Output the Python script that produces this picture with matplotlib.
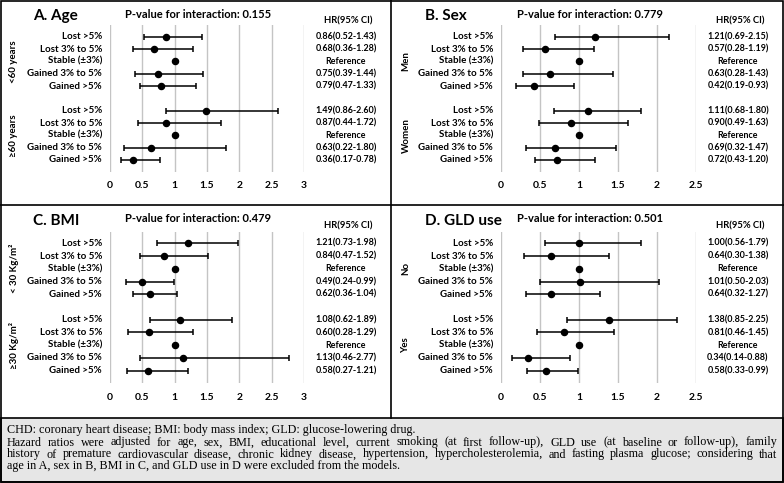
import numpy as np
import matplotlib
matplotlib.use("Agg")
import matplotlib.pyplot as plt
import matplotlib.transforms as mtransforms
from matplotlib.patches import Rectangle
from matplotlib.ticker import FuncFormatter

W, H = 784, 483

row_labels = ["Lost >5%", "Lost 3% to 5%", "Stable (±3%)", "Gained 3% to 5%", "Gained >5%"]

# A. Age
age_groups = ["<60 years", "≥60 years"]
age_hr = [0.86, 0.68, 1.00, 0.75, 0.79, 1.49, 0.87, 1.00, 0.63, 0.36]
age_lo = [0.52, 0.36, None, 0.39, 0.47, 0.86, 0.44, None, 0.22, 0.17]
age_hi = [1.43, 1.28, None, 1.44, 1.33, 2.60, 1.72, None, 1.80, 0.78]

# B. Sex
sex_groups = ["Men", "Women"]
sex_hr = [1.21, 0.57, 1.00, 0.63, 0.42, 1.11, 0.90, 1.00, 0.69, 0.72]
sex_lo = [0.69, 0.28, None, 0.28, 0.19, 0.68, 0.49, None, 0.32, 0.43]
sex_hi = [2.15, 1.19, None, 1.43, 0.93, 1.80, 1.63, None, 1.47, 1.20]

# C. BMI
bmi_groups = ["< 30 Kg/m²", "≥30 Kg/m²"]
bmi_hr = [1.21, 0.84, 1.00, 0.49, 0.62, 1.08, 0.60, 1.00, 1.13, 0.58]
bmi_lo = [0.73, 0.47, None, 0.24, 0.36, 0.62, 0.28, None, 0.46, 0.27]
bmi_hi = [1.98, 1.52, None, 0.99, 1.04, 1.89, 1.29, None, 2.77, 1.21]

# D. GLD use
gld_groups = ["No", "Yes"]
gld_hr = [1.00, 0.64, 1.00, 1.01, 0.64, 1.38, 0.81, 1.00, 0.34, 0.58]
gld_lo = [0.56, 0.30, None, 0.50, 0.32, 0.85, 0.46, None, 0.14, 0.33]
gld_hi = [1.79, 1.38, None, 2.03, 1.27, 2.25, 1.45, None, 0.88, 0.99]

titles = ["A. Age", "B. Sex", "C. BMI", "D. GLD use"]
pvalues = ["0.155", "0.779", "0.479", "0.501"]
xmaxes = [3, 2.5, 3, 2.5]

footnote = [
    ("CHD: coronary heart disease; BMI: body mass index; GLD: glucose-lowering drug.", False),
    ("Hazard ratios were adjusted for age, sex, BMI, educational level, current smoking (at first follow-up), "
     "GLD use (at baseline or follow-up), family", True),
    ("history of premature cardiovascular disease, chronic kidney disease, hypertension, hypercholesterolemia, "
     "and fasting plasma glucose; considering that", True),
    ("age in A, sex in B, BMI in C, and GLD use in D were excluded from the models.", False),
]

SANS = ["Lato", "DejaVu Sans"]
SERIF = ["Liberation Serif", "DejaVu Serif"]

fig = plt.figure(figsize=(W / 100, H / 100), dpi=100)
fig.patch.set_facecolor("white")

# background axes in pixel units (y down)
bg = fig.add_axes([0, 0, 1, 1])
bg.set_xlim(0, W)
bg.set_ylim(H, 0)
bg.axis("off")

# footnote box and panel borders
bg.add_patch(Rectangle((0.75, 418), W - 1.5, H - 418 - 1.5, facecolor="#e6e6e6",
                       edgecolor="black", lw=1.2))
bg.add_patch(Rectangle((0.75, 0.75), W - 1.5, H - 1.5, facecolor="none",
                       edgecolor="black", lw=1.2))
bg.plot([391.5, 391.5], [0, 418], color="black", lw=1.2)
bg.plot([0, W], [205, 205], color="black", lw=1.2)


def px_axes(x0, x1, y0, y1):
    return fig.add_axes([x0 / W, 1 - y1 / H, (x1 - x0) / W, (y1 - y0) / H])


def forest(k, groups, hr, lo, hi, left, top, ax_x0, ax_x1, grid_top, grid_bot, row0, row1, tick_pad):
    step = (row1 - row0) / 10.0
    ax = px_axes(ax_x0, ax_x1, grid_top, grid_bot)
    ax.patch.set_facecolor("none")
    xmax = xmaxes[k]
    ax.set_xlim(0, xmax)
    ax.set_ylim((grid_bot - row0) / step, (grid_top - row0) / step)
    ax.set_xticks(np.arange(0, xmax + 0.01, 0.5))
    ax.xaxis.set_major_formatter(FuncFormatter(lambda v, p: "%g" % v))
    ax.set_yticks([])
    ax.grid(axis="x", color="#c4c4c4", lw=1.0)
    ax.set_axisbelow(True)
    for s in ax.spines.values():
        s.set_visible(False)
    ax.tick_params(axis="x", length=0, pad=tick_pad, labelsize=7.5)
    for lab in ax.get_xticklabels():
        lab.set_fontfamily(SANS)
        lab.set_fontweight("bold")

    ys = [0, 1, 2, 3, 4, 6, 7, 8, 9, 10]
    ci = [i for i in range(10) if lo[i] is not None]
    ref = [i for i in range(10) if lo[i] is None]
    x = np.array([hr[i] for i in ci])
    y = np.array([ys[i] for i in ci])
    err = [x - np.array([lo[i] for i in ci]), np.array([hi[i] for i in ci]) - x]
    ax.errorbar(x, y, xerr=err, fmt="o", color="black", ms=4.4, capsize=2.2,
                elinewidth=1.1, capthick=1.1, clip_on=False)
    ax.plot([hr[i] for i in ref], [ys[i] for i in ref], "o", color="black", ms=4.4)

    tr = mtransforms.blended_transform_factory(bg.transData, ax.transData)
    txt = dict(fontfamily=SANS, fontweight="bold", color="black")
    for i in range(10):
        ax.text(ax_x0 - 8, ys[i], row_labels[i % 5], transform=tr, ha="right",
                va="center", fontsize=7.0, **txt)
        val = "Reference" if lo[i] is None else "%.2f(%.2f-%.2f)" % (hr[i], lo[i], hi[i])
        ax.text(left + 346, ys[i], val, transform=tr, ha="center", va="center",
                fontsize=6.4, **txt)
    for g, yc in zip(groups, [2, 8]):
        ax.text(left + 14, yc, g, transform=tr, ha="center", va="center",
                rotation=90, fontsize=7.0, **txt)

    bg.text(left + 33, top + 16, titles[k], ha="left", va="center", fontsize=11, **txt)
    bg.text(left + 198, top + 14, "P-value for interaction: " + pvalues[k],
            ha="center", va="center", fontsize=8.0, **txt)
    bg.text(left + 348, top + 21, "HR(95% CI)", ha="center", va="center",
            fontsize=6.8, **txt)
    return ax


forest(0, age_groups, age_hr, age_lo, age_hi, 0, 0, 110, 304, 25, 172, 36.7, 160, 6.5)
forest(1, sex_groups, sex_hr, sex_lo, sex_hi, 392, 0, 501, 696, 25, 172, 36.7, 160, 6.5)
forest(2, bmi_groups, bmi_hr, bmi_lo, bmi_hi, 0, 205, 110, 304, 232, 383, 243.3, 370.7, 7.5)
forest(3, gld_groups, gld_hr, gld_lo, gld_hi, 392, 205, 501, 696, 232, 383, 243.3, 370.7, 7.5)

# footnote, justified like the original
renderer = fig.canvas.get_renderer()
fx0, fx1 = 7, 777
fy = [429, 441, 453, 465]
for (line, just), y in zip(footnote, fy):
    kw = dict(fontfamily=SERIF, fontsize=8.7, va="center_baseline", ha="left", color="black")
    if not just:
        bg.text(fx0, y, line, **kw)
        continue
    words = line.split()
    texts = [bg.text(0, y, w, **kw) for w in words]
    widths = [t.get_window_extent(renderer).width for t in texts]
    gap = (fx1 - fx0 - sum(widths)) / (len(words) - 1)
    xpos = fx0
    for t, w in zip(texts, widths):
        t.set_x(xpos)
        xpos += w + gap

fig.savefig("out.png", dpi=100)
